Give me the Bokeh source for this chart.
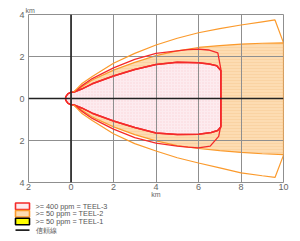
from bokeh.plotting import figure
from bokeh.layouts import column, row
from bokeh.models import Span, FixedTicker
from bokeh.core.properties import value
from bokeh.embed import file_html
from bokeh.resources import INLINE

# ---- data (km) ----
x_ticks = [-2, 0, 2, 4, 6, 8, 10]
x_tick_labels = ["2", "0", "2", "4", "6", "8", "10"]
y_ticks = [-4, -2, 0, 2, 4]
y_tick_labels = ["4", "2", "0", "2", "4"]

# small ring around the source
ring_x = [0.0, -0.15, -0.25, -0.25, -0.15, 0.0]
ring_y = [-0.3, -0.22, -0.08, 0.08, 0.22, 0.3]

# TEEL-2 confidence line (outer orange)
c2_x = [0.12, 0.5, 1, 2, 3, 4, 5, 6, 7, 8, 9, 9.6, 10]
c2_up = [0.3, 0.7, 1.05, 1.68, 2.15, 2.55, 2.87, 3.13, 3.33, 3.5, 3.65, 3.74, 2.65]
c2_lo = [-0.3, -0.7, -1.05, -1.68, -2.15, -2.5, -2.82, -3.07, -3.3, -3.54, -3.68, -3.76, -2.7]

# TEEL-2 zone (orange fill)
t2_x = [0.12, 0.5, 1, 2, 3, 4, 5, 6, 7, 8, 9, 10]
t2_up = [0.3, 0.55, 0.88, 1.35, 1.72, 2.04, 2.27, 2.43, 2.52, 2.59, 2.63, 2.65]
t2_lo = [-0.3, -0.55, -0.88, -1.35, -1.72, -2.02, -2.24, -2.38, -2.48, -2.57, -2.63, -2.67]

# TEEL-3 confidence line (outer red)
c3_x_up = [0.12, 0.5, 1, 2, 3, 4, 5, 5.5, 6, 6.47, 6.91, 7.05]
c3_up = [0.3, 0.6, 0.95, 1.46, 1.86, 2.15, 2.27, 2.33, 2.35, 2.31, 2.17, 1.41]
c3_x_lo = [0.12, 0.5, 1, 2, 3, 4, 5, 5.5, 6, 6.55, 6.95, 7.05]
c3_lo = [-0.3, -0.6, -0.95, -1.46, -1.86, -2.12, -2.27, -2.32, -2.35, -2.27, -1.8, -1.28]

# TEEL-3 zone (pink fill, inner red)
t3_x_up = [0.12, 0.5, 1, 2, 3, 4, 5, 6, 6.5, 6.86, 7.05]
t3_up = [0.3, 0.45, 0.7, 1.07, 1.38, 1.62, 1.73, 1.7, 1.64, 1.56, 1.33]
t3_x_lo = [0.12, 0.5, 1, 2, 3, 4, 5, 6, 6.6, 6.9, 7.05]
t3_lo = [-0.3, -0.45, -0.7, -1.07, -1.38, -1.64, -1.72, -1.7, -1.62, -1.52, -1.36]

legend_labels = [">= 400 ppm = TEEL-3", ">= 50 ppm = TEEL-2", ">= 50 ppm = TEEL-1", "信頼線"]

RED = "#f42a2a"
ORANGE = "#fb9a2c"
GRID = "#8f8f8f"
TXT = "#666666"
PINK_FILL = "#fdebef"
ORANGE_FILL = "#fddcb2"

p = figure(width=300, height=200, x_range=(-2, 10), y_range=(-4, 4),
           output_backend="svg", toolbar_location=None,
           min_border_left=28, min_border_right=17, min_border_top=14, min_border_bottom=17)
p.background_fill_color = "white"
p.border_fill_color = "white"
p.outline_line_color = GRID

# unit label at top
p.title.text = "km"
p.title.text_font_size = "7px"
p.title.text_font_style = "normal"
p.title.text_color = TXT
p.title.text_font = "Liberation Sans"
p.title.align = "left"
p.title.offset = -3
p.title.standoff = 2

# axes
for ax, ticks, labels in ((p.xaxis[0], x_ticks, x_tick_labels), (p.yaxis[0], y_ticks, y_tick_labels)):
    ax.ticker = FixedTicker(ticks=ticks)
    ax.major_label_overrides = {t: l for t, l in zip(ticks, labels)}
    ax.axis_line_color = None
    ax.major_tick_line_color = None
    ax.minor_tick_line_color = None
    ax.major_tick_out = 0
    ax.major_tick_in = 0
    ax.minor_tick_out = 0
    ax.minor_tick_in = 0
    ax.major_label_text_font_size = "9px"
    ax.major_label_text_color = TXT
    ax.major_label_text_font = "Liberation Sans"
p.xaxis.major_label_standoff = 1
p.yaxis.major_label_standoff = 4
p.xaxis.axis_label = "km"
p.xaxis.axis_label_text_font_size = "7px"
p.xaxis.axis_label_text_font_style = "normal"
p.xaxis.axis_label_text_color = TXT
p.xaxis.axis_label_text_font = "Liberation Sans"
p.xaxis.axis_label_standoff = -2

p.xgrid.ticker = FixedTicker(ticks=x_ticks)
p.ygrid.ticker = FixedTicker(ticks=y_ticks)
p.grid.grid_line_color = GRID
p.grid.grid_line_width = 1

# TEEL-2 zone polygon
t2_px = ring_x + t2_x + t2_x[::-1]
t2_py = ring_y + t2_up + t2_lo[::-1]
r_t2 = p.patch(t2_px, t2_py, fill_color=ORANGE_FILL, line_color=ORANGE, line_width=1.2,
               hatch_pattern="horizontal_line", hatch_color="#f9cd98", hatch_scale=3, hatch_weight=0.6)
r_t2.level = "image"

# TEEL-3 zone polygon
t3_px = ring_x + t3_x_up + t3_x_lo[::-1]
t3_py = ring_y + t3_up + t3_lo[::-1]
r_t3 = p.patch(t3_px, t3_py, fill_color=PINK_FILL, line_color=RED, line_width=1.5,
               hatch_pattern="dot", hatch_color="#fad3d9", hatch_scale=3, hatch_weight=0.6)
r_t3.level = "image"
p.line(t3_px + [t3_px[0]], t3_py + [t3_py[0]], line_color=RED, line_width=1.5)

# TEEL-3 confidence line
p.line(c3_x_up + c3_x_lo[::-1], c3_up + c3_lo[::-1], line_color=RED, line_width=1.3)

# TEEL-2 confidence line
p.multi_line([c2_x, c2_x], [c2_up, c2_lo], line_color=ORANGE, line_width=1.2)

# zero axes
p.add_layout(Span(location=0, dimension="height", line_color="#222222", line_width=1.6))
p.add_layout(Span(location=0, dimension="width", line_color="#222222", line_width=1.6))

# ---- legend panel (pixel-like coordinates, y downward) ----
q = figure(width=300, height=41, x_range=(0, 300), y_range=(241, 200),
           x_axis_type=None, y_axis_type=None, output_backend="svg", toolbar_location=None,
           min_border=0, min_border_left=0, min_border_right=0, min_border_top=0, min_border_bottom=0)
q.title = None
q.outline_line_color = None
q.grid.visible = False
q.background_fill_color = "white"
q.border_fill_color = "white"

q.rect(x=[22, 22, 22], y=[205.8, 213.3, 221.0], width=14, height=6.5,
       fill_color=[PINK_FILL, ORANGE_FILL, "#ffff00"],
       line_color=[RED, ORANGE, "#000000"], line_width=1.6)
q.line(x=[15, 29], y=[229.6, 229.6], line_color="#222222", line_width=1.6)
q.text(x=[35, 35, 35, 35], y=[205.8, 213.3, 221.0, 229.6], text=legend_labels,
       text_font=value("Liberation Sans"), text_font_size="7.3px", text_color="#555555",
       text_baseline="middle", text_align="left")

layout = column(p, row(q, spacing=0), spacing=0)
open("out.html", "w").write(file_html(layout, INLINE))
